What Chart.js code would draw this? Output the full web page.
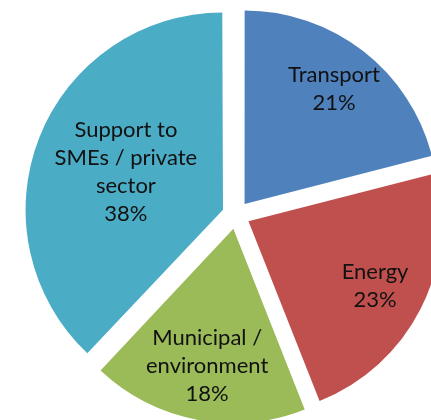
<!DOCTYPE html>
<html>
<head>
<meta charset="utf-8">
<script src="https://cdn.jsdelivr.net/npm/chart.js@4"></script>
<style>
  html, body { margin: 0; padding: 0; background: #fff; }
  #wrap { width: 431px; height: 420px; }
</style>
</head>
<body>
<div id="wrap"><canvas id="myChart"></canvas></div>
<script>
// data
const categories = [['Transport'], ['Energy'], ['Municipal /', 'environment'], ['Support to', 'SMEs / private', 'sector']];
const shares = [21, 23, 18, 38];
const colors = ['#4F81BD', '#C0504D', '#9BBB59', '#4BACC6'];

// how far out (fraction of radius) each label sits
const labelRadius = [0.756, 0.736, 0.725, 0.541];

const sliceLabels = {
  id: 'sliceLabels',
  afterDatasetsDraw(chart) {
    const c = chart.ctx;
    const meta = chart.getDatasetMeta(0);
    c.save();
    c.font = '22px Lato';
    c.fillStyle = '#111';
    c.textAlign = 'center';
    c.textBaseline = 'middle';
    meta.data.forEach((arc, i) => {
      const p = arc.getProps(['x', 'y', 'startAngle', 'endAngle', 'outerRadius'], true);
      const mid = (p.startAngle + p.endAngle) / 2;
      // arcs are pushed out by offset / 4 in v4
      const shift = arc.options.offset / 4;
      const r = p.outerRadius * labelRadius[i] + shift;
      const cx = p.x + Math.cos(mid) * r;
      const cy = p.y + Math.sin(mid) * r;
      const lines = categories[i].concat([shares[i] + '%']);
      const lh = 28;
      lines.forEach((t, j) => {
        c.fillText(t, cx, cy + (j - (lines.length - 1) / 2) * lh);
      });
    });
    c.restore();
  }
};

new Chart(document.getElementById('myChart'), {
  type: 'pie',
  data: {
    labels: categories,
    datasets: [{
      data: shares,
      backgroundColor: colors,
      borderWidth: 0,
      offset: 56,
      radius: 193,
      clip: false
    }]
  },
  options: {
    responsive: true,
    maintainAspectRatio: false,
    animation: false,
    layout: { padding: { left: 41, right: 0, top: 10, bottom: 0 } },
    plugins: {
      legend: { display: false },
      tooltip: { enabled: false }
    }
  },
  plugins: [sliceLabels]
});
</script>
</body>
</html>
